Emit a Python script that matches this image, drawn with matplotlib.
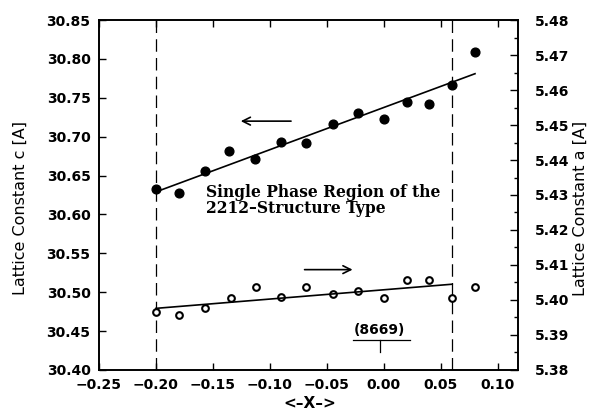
import matplotlib
matplotlib.use("Agg")
import matplotlib.pyplot as plt

# ---- data ----
x_c = [-0.200, -0.180, -0.157, -0.136, -0.113, -0.090, -0.068, -0.045, -0.023, 0.000, 0.020, 0.040, 0.060, 0.080]
c_vals = [30.633, 30.628, 30.656, 30.682, 30.671, 30.693, 30.692, 30.716, 30.730, 30.723, 30.744, 30.742, 30.766, 30.809]
x_a = [-0.200, -0.180, -0.157, -0.134, -0.112, -0.090, -0.068, -0.045, -0.023, 0.000, 0.020, 0.040, 0.060, 0.080]
a_vals = [5.3967, 5.3957, 5.3976, 5.4007, 5.4036, 5.4008, 5.4036, 5.4017, 5.4027, 5.4007, 5.4056, 5.4056, 5.4007, 5.4036]
fit_c_x = [-0.200, 0.080]
fit_c_y = [30.629, 30.781]
fit_a_x = [-0.200, 0.060]
fit_a_y = [5.3976, 5.4045]
phase_bounds = [-0.200, 0.060]
x_ticks = [-0.25, -0.20, -0.15, -0.10, -0.05, 0.00, 0.05, 0.10]
c_ticks = [30.40, 30.45, 30.50, 30.55, 30.60, 30.65, 30.70, 30.75, 30.80, 30.85]
a_ticks = [5.38, 5.39, 5.40, 5.41, 5.42, 5.43, 5.44, 5.45, 5.46, 5.47, 5.48]
region_text = ['Single Phase Region of the', '2212\u2013Structure Type']
sample_label = '(8669)'

plt.rcParams['font.family'] = ['DejaVu Sans']
plt.rcParams['axes.unicode_minus'] = True

fig = plt.figure(figsize=(5.89, 4.18), dpi=100)
ax = fig.add_axes([0.168, 0.115, 0.711, 0.837])
ax2 = ax.twinx()

ax.set_xlim(-0.25, 0.1175)
ax.set_ylim(30.40, 30.85)
ax2.set_ylim(5.38, 5.48)

# data
ax.plot(x_c, c_vals, 'o', color='black', markersize=6.3)
ax.plot(fit_c_x, fit_c_y, '-', color='black', lw=1.2)
ax2.plot(x_a, a_vals, 'o', markerfacecolor='white', markeredgecolor='black',
         markeredgewidth=1.5, markersize=4.8)
ax2.plot(fit_a_x, fit_a_y, '-', color='black', lw=1.2)

for xb in phase_bounds:
    ax.axvline(xb, color='black', lw=0.9, ls=(0, (10, 5)))

# arrows
ax.annotate('', xy=(-0.128, 30.720), xytext=(-0.079, 30.720),
            arrowprops=dict(arrowstyle='->', color='black', lw=1.2,
                            mutation_scale=14))
ax.annotate('', xy=(-0.025, 30.529), xytext=(-0.072, 30.529),
            arrowprops=dict(arrowstyle='->', color='black', lw=1.2,
                            mutation_scale=14))

ax.text(-0.156, 30.628, region_text[0], family='DejaVu Serif', fontweight='bold',
        fontsize=11.2, va='center', ha='left')
ax.text(-0.156, 30.607, region_text[1], family='DejaVu Serif', fontweight='bold',
        fontsize=11.2, va='center', ha='left')

# sample label
ax.text(-0.0036, 30.4516, sample_label, family='DejaVu Sans', fontweight='bold',
        fontsize=10, ha='center', va='center')
ax.plot([-0.0272, 0.0227], [30.439, 30.439], color='black', lw=0.9)
ax.plot([-0.0036, -0.0036], [30.439, 30.423], color='black', lw=0.9)

# ticks
tick_font = dict(family='DejaVu Sans', weight='bold', size=10)
ax.set_xticks(x_ticks)
ax.set_xticklabels([f'{v:.2f}'.replace('-', '\u2212') for v in x_ticks], **tick_font)
ax.set_yticks(c_ticks)
ax.set_yticklabels([f'{v:.2f}' for v in c_ticks], **tick_font)
ax2.set_yticks(a_ticks)
ax2.set_yticklabels([f'{v:.2f}' for v in a_ticks], **tick_font)
ax2.set_yticks([v + 0.005 for v in a_ticks[:-1]], minor=True)

ax.tick_params(axis='both', direction='in', length=5, width=1,
               top=True, right=False)
ax.tick_params(axis='y', pad=6)
ax.tick_params(axis='x', pad=6)
ax2.tick_params(axis='y', which='major', direction='in', length=6, width=1, pad=12)
ax2.tick_params(axis='y', which='minor', direction='in', length=3, width=1)

for a in (ax, ax2):
    for s in a.spines.values():
        s.set_linewidth(1.2)

ax.set_ylabel('Lattice Constant c [A]', fontsize=11.5, va='center', ha='center')
ax.yaxis.set_label_coords(-0.188, 0.463)
ax2.set_ylabel('Lattice Constant a [A]', fontsize=11.5, rotation=90, va='center', ha='center')
ax2.yaxis.set_label_coords(1.150, 0.463)
ax.set_xlabel('<\u2013X\u2013>', fontsize=11, fontweight='bold', va='center', ha='center')
ax.xaxis.set_label_coords(0.504, -0.097)

fig.savefig('out.png', dpi=100)
